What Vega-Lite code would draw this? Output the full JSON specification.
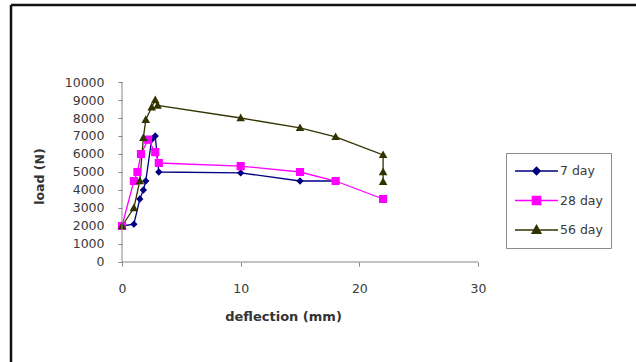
{
  "$schema": "https://vega.github.io/schema/vega-lite/v6.json",
  "width": 625,
  "height": 357,
  "autosize": {"type": "none"},
  "padding": {"left": 11, "top": 5, "right": 0, "bottom": 0},
  "background": "white",
  "config": {"view": {"stroke": null}, "font": "DejaVu Sans"},
  "data": {
    "values": [
      {"series": "7 day", "i": 0, "d": 0, "load": 2000},
      {"series": "7 day", "i": 1, "d": 1, "load": 2100},
      {"series": "7 day", "i": 2, "d": 1.5, "load": 3500},
      {"series": "7 day", "i": 3, "d": 1.8, "load": 4000},
      {"series": "7 day", "i": 4, "d": 2, "load": 4500},
      {"series": "7 day", "i": 5, "d": 2.5, "load": 6800},
      {"series": "7 day", "i": 6, "d": 2.8, "load": 7000},
      {"series": "7 day", "i": 7, "d": 3.1, "load": 5000},
      {"series": "7 day", "i": 8, "d": 10, "load": 4950},
      {"series": "7 day", "i": 9, "d": 15, "load": 4500},
      {"series": "7 day", "i": 10, "d": 18, "load": 4500},
      {"series": "28 day", "i": 0, "d": 0, "load": 2000},
      {"series": "28 day", "i": 1, "d": 1, "load": 4500},
      {"series": "28 day", "i": 2, "d": 1.3, "load": 5000},
      {"series": "28 day", "i": 3, "d": 1.6, "load": 6000},
      {"series": "28 day", "i": 4, "d": 2.2, "load": 6800},
      {"series": "28 day", "i": 5, "d": 2.8, "load": 6100},
      {"series": "28 day", "i": 6, "d": 3.1, "load": 5500},
      {"series": "28 day", "i": 7, "d": 10, "load": 5330},
      {"series": "28 day", "i": 8, "d": 15, "load": 5000},
      {"series": "28 day", "i": 9, "d": 18, "load": 4500},
      {"series": "28 day", "i": 10, "d": 22, "load": 3500},
      {"series": "56 day", "i": 0, "d": 0, "load": 2000},
      {"series": "56 day", "i": 1, "d": 1, "load": 3000},
      {"series": "56 day", "i": 2, "d": 1.5, "load": 4500},
      {"series": "56 day", "i": 3, "d": 1.8, "load": 6900},
      {"series": "56 day", "i": 4, "d": 2, "load": 7900},
      {"series": "56 day", "i": 5, "d": 2.5, "load": 8600},
      {"series": "56 day", "i": 6, "d": 2.8, "load": 9000},
      {"series": "56 day", "i": 7, "d": 3, "load": 8700},
      {"series": "56 day", "i": 8, "d": 10, "load": 8000},
      {"series": "56 day", "i": 9, "d": 15, "load": 7450},
      {"series": "56 day", "i": 10, "d": 18, "load": 6950},
      {"series": "56 day", "i": 11, "d": 22, "load": 5950},
      {"series": "56 day", "i": 12, "d": 22, "load": 5000},
      {"series": "56 day", "i": 13, "d": 22, "load": 4450}
    ]
  },
  "layer": [
    {
      "mark": {"type": "line", "strokeWidth": 1.3},
      "encoding": {
        "x": {
          "field": "d", "type": "quantitative",
          "scale": {"domain": [-9.354, 43.31], "nice": false, "zero": false},
          "axis": {
            "orient": "bottom", "offset": -100, "domain": false, "grid": false,
            "values": [0, 10, 20, 30], "tickCount": 10, "tickSize": 4, "tickColor": "#868686",
            "labelFontSize": 12.5, "labelColor": "#3a3a3a", "labelPadding": 16,
            "title": "deflection (mm)", "titleFontSize": 13, "titleFontWeight": "bold",
            "titleColor": "#333333", "titleX": 272, "titleY": 54,
            "titleAlign": "center", "titleBaseline": "middle"
          }
        },
        "y": {
          "field": "load", "type": "quantitative",
          "scale": {"domain": [-5556, 14278], "nice": false, "zero": false},
          "axis": {
            "orient": "left", "offset": -111, "domain": false, "grid": false,
            "values": [0, 1000, 2000, 3000, 4000, 5000, 6000, 7000, 8000, 9000, 10000],
            "tickCount": 20, "format": "d", "tickSize": 4, "tickColor": "#868686", "labelOverlap": false,
            "labelFontSize": 12.5, "labelColor": "#3a3a3a", "labelPadding": 14,
            "title": "load (N)", "titleFontSize": 12.5, "titleFontWeight": "bold",
            "titleColor": "#333333", "titleX": -83, "titleY": 171, "titleAngle": -90,
            "titleAlign": "center", "titleBaseline": "middle"
          }
        },
        "color": {
          "field": "series", "type": "nominal",
          "scale": {"domain": ["7 day", "28 day", "56 day"], "range": ["#000080", "#ff00ff", "#333300"]},
          "legend": {
            "orient": "none", "legendX": 495, "legendY": 148, "title": null,
            "strokeColor": "#8c8c8c", "fillColor": "white", "padding": 8,
            "labelFontSize": 12.5, "labelColor": "#3a3a3a", "labelOffset": 1, "labelAlign": "left",
            "symbolSize": 1849, "clipHeight": 20, "rowPadding": 9.5,
            "encode": {"symbols": {"update": {"stroke": {"scale": "color", "field": "value"}, "strokeWidth": {"value": 1.5}}}}
          }
        },
        "order": {"field": "i", "type": "quantitative"}
      }
    },
    {
      "mark": {"type": "point", "filled": true, "opacity": 1, "size": 1849},
      "encoding": {
        "x": {"field": "d", "type": "quantitative"},
        "y": {"field": "load", "type": "quantitative"},
        "color": {"field": "series", "type": "nominal"},
        "shape": {
          "field": "series", "type": "nominal",
          "scale": {
            "domain": ["7 day", "28 day", "56 day"],
            "range": [
              "M-1,0H1M0,-0.17L0.17,0L0,0.17L-0.17,0Z",
              "M-1,0H1M-0.19,-0.19H0.19V0.19H-0.19Z",
              "M-1,0H1M0,-0.21L0.2,0.15H-0.2Z"
            ]
          }
        }
      }
    },
    {
      "data": {"values": [{}]},
      "mark": {"type": "rule", "color": "#111111", "strokeWidth": 2.5},
      "encoding": {"x": {"datum": -9.354, "type": "quantitative"}}
    },
    {
      "data": {"values": [{}]},
      "mark": {"type": "rule", "color": "#111111", "strokeWidth": 2.5},
      "encoding": {"y": {"datum": 14278, "type": "quantitative"}}
    },
    {
      "data": {"values": [{}]},
      "mark": {"type": "rule", "color": "#868686", "strokeWidth": 1},
      "encoding": {
        "x": {"datum": 0, "type": "quantitative"},
        "x2": {"datum": 30},
        "y": {"datum": 0, "type": "quantitative"}
      }
    },
    {
      "data": {"values": [{}]},
      "mark": {"type": "rule", "color": "#868686", "strokeWidth": 1},
      "encoding": {
        "x": {"datum": 0, "type": "quantitative"},
        "y": {"datum": 0, "type": "quantitative"},
        "y2": {"datum": 10000}
      }
    }
  ]
}
